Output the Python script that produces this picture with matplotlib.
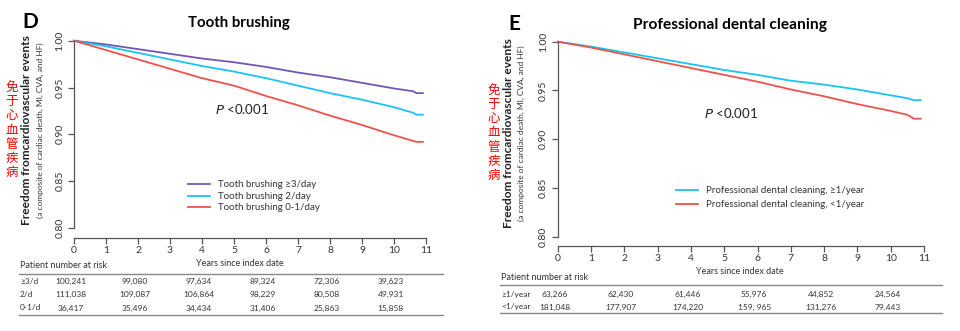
import matplotlib.pyplot as plt
from matplotlib.transforms import blended_transform_factory

plt.rcParams['font.family'] = ['Lato', 'DejaVu Sans']

# Panel D: tooth brushing
years_d = [0, 1, 2, 3, 4, 5, 6, 7, 8, 9, 10, 10.6, 10.7, 10.9]
brush_3 = [1.0, 0.996, 0.991, 0.986, 0.981, 0.977, 0.972, 0.966, 0.961, 0.955, 0.949, 0.946, 0.944, 0.944]
brush_2 = [1.0, 0.994, 0.987, 0.980, 0.973, 0.967, 0.960, 0.952, 0.944, 0.937, 0.929, 0.923, 0.921, 0.921]
brush_01 = [1.0, 0.990, 0.980, 0.970, 0.960, 0.952, 0.941, 0.931, 0.920, 0.910, 0.899, 0.893, 0.892, 0.892]
labels_d = ['Tooth brushing \u22653/day', 'Tooth brushing 2/day', 'Tooth brushing 0-1/day']

# Panel E: professional dental cleaning
years_e = [0, 1, 2, 3, 4, 5, 6, 7, 8, 9, 10, 10.5, 10.7, 10.9]
clean_ge1 = [1.0, 0.995, 0.989, 0.983, 0.977, 0.971, 0.966, 0.960, 0.956, 0.951, 0.945, 0.942, 0.940, 0.940]
clean_lt1 = [1.0, 0.994, 0.987, 0.980, 0.973, 0.966, 0.959, 0.951, 0.944, 0.936, 0.929, 0.925, 0.921, 0.921]
labels_e = ['Professional dental cleaning, \u22651/year', 'Professional dental cleaning, <1/year']

# numbers at risk
risk_years = [0, 2, 4, 6, 8, 10]
risk_names_d = ['\u22653/d', '2/d', '0-1/d']
risk_d = [['100,241', '99,080', '97,634', '89,324', '72,306', '39,623'],
          ['111,038', '109,087', '106,864', '98,229', '80,508', '49,931'],
          ['36,417', '35,496', '34,434', '31,406', '25,863', '15,858']]
risk_names_e = ['\u22651/year', '<1/year']
risk_e = [['63,266', '62,430', '61,446', '55,976', '44,852', '24,564'],
          ['181,048', '177,907', '174,220', '159, 965', '131,276', '79,443']]

purple = '#7355b5'
blue = '#1cc3f2'
red = '#f0524b'
gray = '#555555'

W, H = 960, 331
fig = plt.figure(figsize=(W / 100, H / 100), dpi=100)


def fx(px):
    return px / W


def fy(py):
    return 1 - py / H


def make_panel(x0, x1, y100, y080, yaxis):
    # axes box: top a bit above 1.00, bottom at the offset x axis line
    per = (y080 - y100) / 0.2
    top = y100 - 6
    ax = fig.add_axes([fx(x0), fy(yaxis), (x1 - x0) / W, (yaxis - top) / H])
    ax.set_xlim(0, 11)
    ax.set_ylim(0.8 - (yaxis - y080) / per, 1.0 + 6 / per)
    for s in ['top', 'right']:
        ax.spines[s].set_visible(False)
    ax.spines['left'].set_bounds(0.8, 1.0)
    ax.spines['bottom'].set_bounds(0, 11)
    for s in ['left', 'bottom']:
        ax.spines[s].set_color(gray)
        ax.spines[s].set_linewidth(0.9)
    ax.set_xticks(range(12))
    ax.set_yticks([0.8, 0.85, 0.9, 0.95, 1.0])
    ax.set_yticklabels(['0.80', '0.85', '0.90', '0.95', '1.00'], rotation=90, va='center')
    ax.tick_params(colors=gray, labelcolor='#333333', labelsize=7.5, length=4, width=0.9)
    ax.tick_params(axis='x', pad=2)
    ax.tick_params(axis='y', pad=3)
    ax.patch.set_alpha(0)
    return ax


def ylabels(xc, xb, xs, yc):
    fig.text(fx(xc), fy(yc), '\n'.join('免于心血管疾病'), color='red', fontsize=9,
             family=['Noto Sans CJK SC', 'DejaVu Sans'], ha='center', va='center',
             linespacing=1.12)
    fig.text(fx(xb), fy(yc), 'Freedom fromcardiovascular events', rotation=90,
             fontsize=8.6, fontweight='bold', ha='center', va='center', color='#222222')
    fig.text(fx(xs), fy(yc), '(a composite of cardiac death, MI, CVA, and HF)', rotation=90,
             fontsize=6, ha='center', va='center', color='#333333')


def risk_table(ax, x0, x1, ytitle, yline1, rows_y, yline2, names, values):
    fig.text(fx(x0 + 1), fy(ytitle), 'Patient number at risk', fontsize=6.5,
             ha='left', va='center', color='#333333')
    fig.add_artist(plt.Line2D([fx(x0), fx(x1)], [fy(yline1)] * 2, color='#888888', lw=1))
    fig.add_artist(plt.Line2D([fx(x0), fx(x1)], [fy(yline2)] * 2, color='#888888', lw=1))
    trans = blended_transform_factory(ax.transData, fig.transFigure)
    for name, vals, ry in zip(names, values, rows_y):
        fig.text(fx(x0 + 1), fy(ry), name, fontsize=6, ha='left', va='center', color='#333333')
        for yr, v in zip(risk_years, vals):
            ax.text(yr - 0.1, fy(ry), v, transform=trans, fontsize=6, ha='center',
                    va='center', color='#333333')


# ---- Panel D ----
axd = make_panel(74, 426, 40.7, 228, 237.7)
axd.plot(years_d, brush_3, color=purple, lw=1.3, label=labels_d[0], clip_on=False)
axd.plot(years_d, brush_2, color=blue, lw=1.3, label=labels_d[1], clip_on=False)
axd.plot(years_d, brush_01, color=red, lw=1.3, label=labels_d[2], clip_on=False)
axd.legend(loc='upper left', bbox_to_anchor=(0.3, 0.325), frameon=False, fontsize=7,
           handlelength=2.2, handletextpad=0.8, labelspacing=0.25, labelcolor='#333333')
axd.text(0.40, 0.61, r'$P$ <0.001', transform=axd.transAxes, fontsize=9.5, color='#222222')
fig.text(fx(30), fy(22), 'D', fontsize=15, fontweight='bold', ha='center', va='center')
fig.text(fx(239), fy(23), 'Tooth brushing', fontsize=10.8, fontweight='bold',
         ha='center', va='center')
fig.text(fx(240), fy(263), 'Years since index date', fontsize=6.5, ha='center',
         va='center', color='#333333')
ylabels(12, 27, 40, 130)
risk_table(axd, 19, 443, 266, 273.5, [281, 294.5, 308], 315, risk_names_d, risk_d)

# ---- Panel E ----
axe = make_panel(557.7, 924, 41.7, 236.7, 245.5)
axe.plot(years_e, clean_ge1, color=blue, lw=1.3, label=labels_e[0], clip_on=False)
axe.plot(years_e, clean_lt1, color=red, lw=1.3, label=labels_e[1], clip_on=False)
axe.legend(loc='upper left', bbox_to_anchor=(0.3, 0.325), frameon=False, fontsize=7,
           handlelength=2.2, handletextpad=0.8, labelspacing=0.55, labelcolor='#333333')
axe.text(0.40, 0.61, r'$P$ <0.001', transform=axe.transAxes, fontsize=9.5, color='#222222')
fig.text(fx(514), fy(24), 'E', fontsize=15, fontweight='bold', ha='center', va='center')
fig.text(fx(730), fy(25), 'Professional dental cleaning', fontsize=11.2, fontweight='bold',
         ha='center', va='center')
fig.text(fx(740), fy(272), 'Years since index date', fontsize=6.5, ha='center',
         va='center', color='#333333')
ylabels(494, 508, 521, 133)
risk_table(axe, 500, 942, 277, 285, [294.5, 307], 313, risk_names_e, risk_e)

fig.savefig('out.png', dpi=100)
